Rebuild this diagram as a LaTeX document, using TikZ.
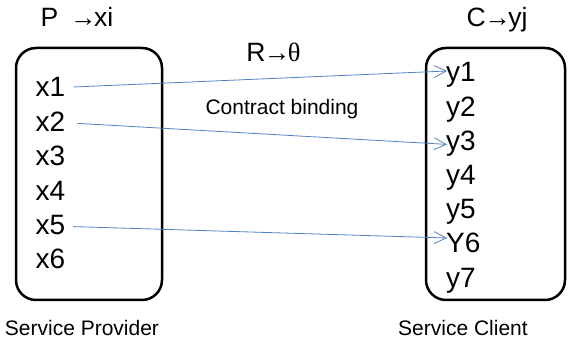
\documentclass[tikz,border=0pt]{standalone}
\usepackage{fontspec}
\setmainfont{Liberation Sans}
\newfontfamily\seriffont{Liberation Serif}
\usetikzlibrary{arrows.meta}
\definecolor{linkblue}{RGB}{79,129,189}
\newcommand{\tarrow}{\kern-1.5pt→\kern-2.5pt}
\begin{document}
\begin{tikzpicture}[x=1pt,y=-1pt,
  item/.style={font=\fontsize{28}{30}\selectfont, inner sep=0pt, anchor=base west},
  title/.style={font=\fontsize{26.5}{28}\selectfont, inner sep=0pt, anchor=base},
  caption/.style={font=\fontsize{21}{24}\selectfont, inner sep=0pt, anchor=base},
  panel/.style={draw, line width=2.5pt, rounded corners=20pt, inner sep=0pt, outer sep=0pt},
  link/.style={draw=linkblue, line width=0.8pt, -{Straight Barb[length=12pt,width=12pt]}}]
\useasboundingbox (0,0) rectangle (568,344);
\node[panel, minimum width=146pt, minimum height=252pt] (prov) at (89,174) {};
\node[panel, minimum width=139pt, minimum height=252pt] (cli) at (495.5,174) {};
% titles
\node[title] (ptitle) at (77,27) {P \,→\kern-2.5pt xi};
\node[title] (ctitle) at (497,27) {C\tarrow yj};
\node[title] (rtitle) at (273.5,61.7) {R\tarrow{\seriffont θ}};
\node[caption] (bind) at (282,115) {Contract binding};
\node[caption] (provcap) at (82,336) {Service Provider};
\node[caption] (clicap) at (463,336) {Service Client};
% provider items
\node[item] (x1) at (35.5,97) {x1};
\node[item] (x2) at (35.5,131.4) {x2};
\node[item] (x3) at (35.5,165.8) {x3};
\node[item] (x4) at (35.5,200.2) {x4};
\node[item] (x5) at (35.5,234.6) {x5};
\node[item] (x6) at (35.5,269) {x6};
% client items
\node[item] (y1) at (446,82) {y1};
\node[item] (y2) at (446,116.2) {y2};
\node[item] (y3) at (446,150.4) {y3};
\node[item] (y4) at (446,184.6) {y4};
\node[item] (y5) at (446,218.8) {y5};
\node[item] (y6) at (446,253) {Y6};
\node[item] (y7) at (446,287.2) {y7};
% links
\draw[link] ([shift={(8pt,10pt)}]x1.base east) -- ([shift={(1pt,11pt)}]y1.base west);
\draw[link] ([shift={(12pt,8pt)}]x2.base east) -- ([shift={(1pt,6pt)}]y3.base west);
\draw[link] ([shift={(8pt,8pt)}]x5.base east) -- ([shift={(1pt,15pt)}]y6.base west);
\end{tikzpicture}
\end{document}
